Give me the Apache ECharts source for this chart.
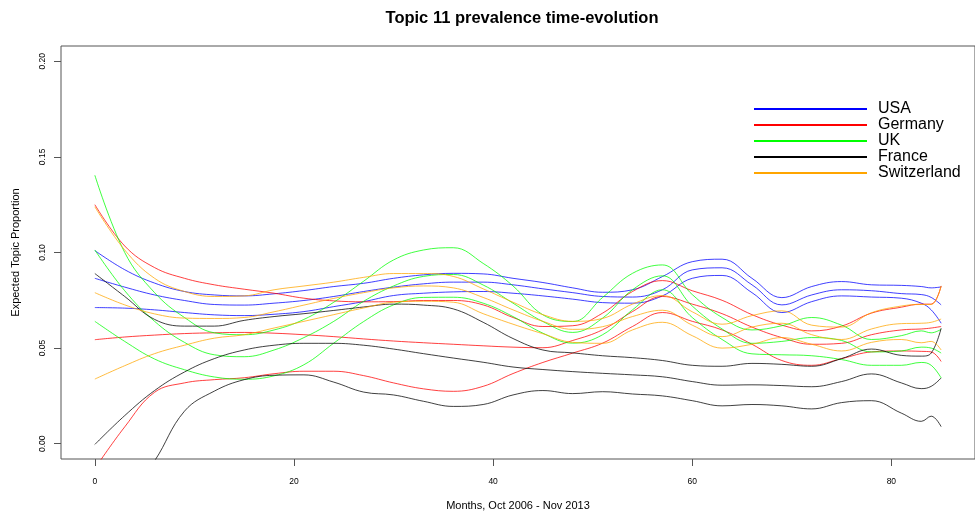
<!DOCTYPE html>
<html>
<head>
<meta charset="utf-8">
<title>Topic 11 prevalence time-evolution</title>
<script src="https://cdn.jsdelivr.net/npm/echarts@6.0.0/dist/echarts.min.js"></script>
<style>
  html, body { margin: 0; padding: 0; background: #fff; }
  #main { width: 975px; height: 517px; }
</style>
</head>
<body>
<div id="main"></div>
<script>
var months = [0, 3, 6, 9, 12, 15, 18, 21, 24, 27, 30, 33, 36, 39, 42, 45, 48, 51, 54, 57, 60, 63, 66, 69, 72, 75, 78, 81, 83, 84, 85];

// expected topic proportion: upper bound, mean, lower bound per country
var usaHi = [.101, .091, .084, .0796, .0778, .0773, .0784, .0801, .0822, .0839, .0865, .0883, .0891, .0888, .0865, .0843, .0815, .0792, .0805, .0874, .0952, .0965, .0865, .0764, .0822, .0848, .0831, .0828, .0822, .0815, .082];
var usaMid = [.0865, .0819, .0778, .0749, .0728, .0725, .0735, .0749, .077, .0796, .0819, .0836, .0845, .0845, .0831, .081, .079, .077, .0767, .0805, .0909, .092, .0831, .0726, .0778, .0805, .080, .0785, .078, .0765, .0726];
var usaLo = [.0712, .0709, .070, .0686, .0674, .067, .0677, .0691, .0717, .0743, .0775, .0787, .0794, .0796, .0787, .0773, .0756, .0738, .0735, .0773, .0865, .088, .079, .0686, .0743, .0773, .0767, .0761, .0735, .070, .063];

var deHi = [.125, .1034, .0921, .0865, .0831, .0808, .0787, .0761, .0747, .0742, .0743, .0749, .0749, .0726, .066, .0613, .0617, .0683, .0796, .0853, .080, .075, .0675, .062, .059, .0615, .0683, .0714, .073, .073, .0825];
var deMid = [.0544, .0558, .0568, .0576, .058, .0582, .0578, .057, .056, .0548, .0537, .0528, .052, .0512, .0505, .0502, .054, .0596, .0691, .077, .073, .068, .061, .0555, .052, .0525, .057, .0595, .060, .0605, .0613];
var deLo = [-.013, .0088, .0269, .0318, .0335, .0345, .0366, .0379, .0379, .0356, .0318, .0287, .0274, .030, .0367, .0425, .0474, .0526, .0613, .0686, .064, .0595, .052, .0435, .041, .0445, .048, .0485, .0483, .048, .043];

var ukHi = [.1404, .100, .079, .066, .058, .057, .0595, .065, .074, .085, .0961, .1013, .1025, .0943, .0825, .0674, .0639, .0765, .0891, .0935, .078, .066, .0595, .0617, .066, .062, .0545, .0565, .059, .058, .0598];
var ukMid = [.1013, .080, .064, .053, .0465, .0455, .049, .0555, .064, .0745, .0825, .0875, .0885, .083, .0735, .0639, .0582, .0657, .0805, .0878, .072, .060, .0525, .0535, .0555, .054, .048, .0485, .0505, .050, .0474];
var ukLo = [.064, .0535, .0443, .0387, .0349, .0337, .0355, .0413, .0526, .0639, .0726, .0765, .0766, .0735, .0665, .0578, .0526, .057, .070, .0805, .066, .0545, .047, .0465, .046, .044, .041, .041, .0425, .041, .0344];

var frHi = [.089, .077, .065, .0615, .0615, .0645, .0665, .068, .0697, .0715, .073, .0725, .0705, .0635, .055, .049, .0475, .046, .045, .0435, .041, .0405, .042, .0415, .0405, .0445, .0495, .0462, .0458, .0474, .0604];
var frMid = [-.0004, .0147, .0278, .0375, .0445, .049, .0515, .0525, .0525, .0515, .0495, .0471, .0448, .0426, .0401, .0388, .0377, .0368, .036, .035, .0325, .0306, .0308, .0304, .0298, .0325, .0365, .0318, .0288, .030, .0344];
var frLo = [-.06, -.03, -.009, .017, .0275, .0335, .0358, .036, .0322, .027, .0255, .0222, .0195, .0205, .0255, .0278, .0262, .0272, .026, .025, .0225, .0198, .0205, .0198, .0182, .0215, .0225, .016, .0117, .0144, .0089];

var chHi = [.1239, .1013, .0865, .0796, .077, .0773, .0805, .0825, .0845, .087, .089, .089, .0875, .081, .074, .0675, .064, .0655, .073, .0775, .069, .0625, .067, .0695, .062, .061, .0685, .072, .0728, .0728, .0825];
var chMid = [.079, .0726, .0679, .0657, .0655, .066, .069, .0725, .076, .079, .0815, .0825, .0815, .0765, .070, .064, .0598, .0612, .0665, .0698, .062, .056, .061, .063, .057, .0545, .060, .0628, .063, .0635, .0652];
var chLo = [.0338, .0408, .0471, .0515, .0552, .057, .0605, .064, .0675, .071, .074, .0745, .074, .068, .0625, .0575, .053, .0525, .0595, .0635, .0565, .050, .052, .0555, .052, .0485, .053, .0545, .0528, .0535, .049];

var countries = ['USA', 'Germany', 'UK', 'France', 'Switzerland'];
var colors = ['#0000ff', '#ff0000', '#00ff00', '#000000', '#ffa500'];
var bands = [
	[usaHi, usaMid, usaLo],
	[deHi, deMid, deLo],
	[ukHi, ukMid, ukLo],
	[frHi, frMid, frLo],
	[chHi, chMid, chLo]
];

var xTicks = [0, 20, 40, 60, 80];
var yTicks = [0, 0.05, 0.1, 0.15, 0.2];

var font = "'Liberation Sans', Arial, Helvetica, sans-serif";

var series = [];
for (var c = 0; c < countries.length; c++) {
	for (var k = 0; k < 3; k++) {
		var vals = bands[c][k];
		var pts = [];
		for (var i = 0; i < months.length; i++) {
			pts.push([months[i], vals[i]]);
		}
		series.push({
			name: countries[c],
			type: 'line',
			data: pts,
			smooth: 0.4,
			showSymbol: false,
			clip: true,
			silent: true,
			itemStyle: { color: colors[c] },
			lineStyle: { color: colors[c], width: 1, opacity: 0.75 }
		});
	}
}

var legendData = [];
for (var j = 0; j < countries.length; j++) {
	legendData.push({ name: countries[j], itemStyle: { color: colors[j] } });
}

var myChart = echarts.init(document.getElementById('main'), null, { renderer: 'canvas' });

var option = {
	animation: false,
	backgroundColor: '#ffffff',
	title: {
		text: 'Topic 11 prevalence time-evolution',
		left: 522,
		textAlign: 'center',
		top: 10,
		padding: 0,
		textStyle: { fontFamily: font, fontSize: 16.5, fontWeight: 'bold', color: '#000' }
	},
	legend: {
		data: legendData,
		orient: 'vertical',
		left: 754,
		top: 101,
		padding: 0,
		itemGap: 0,
		itemWidth: 113,
		itemHeight: 2,
		icon: 'rect',
		selectedMode: false,
		textStyle: { fontFamily: font, fontSize: 16, lineHeight: 16, color: '#000', padding: [0, 0, 0, 6] }
	},
	grid: {
		left: 61,
		top: 46,
		width: 925,
		height: 413,
		show: true,
		borderColor: '#555',
		borderWidth: 1,
		containLabel: false
	},
	xAxis: {
		type: 'value',
		min: -3.4,
		max: 88.4,
		name: 'Months, Oct 2006 - Nov 2013',
		nameLocation: 'middle',
		nameGap: 41,
		nameTextStyle: { fontFamily: font, fontSize: 11, color: '#000' },
		axisLine: { show: false, onZero: false },
		splitLine: { show: false },
		axisTick: { show: true, length: 7, customValues: xTicks, lineStyle: { color: '#555' } },
		axisLabel: { customValues: xTicks, margin: 18, fontFamily: font, fontSize: 8.5, color: '#000' }
	},
	yAxis: {
		type: 'value',
		min: -0.008,
		max: 0.208,
		name: 'Expected Topic Proportion',
		nameLocation: 'middle',
		nameGap: 40,
		nameTextStyle: { fontFamily: font, fontSize: 11, color: '#000' },
		axisLine: { show: false, onZero: false },
		splitLine: { show: false },
		axisTick: { show: true, length: 7, customValues: yTicks, lineStyle: { color: '#555' } },
		axisLabel: {
			customValues: yTicks,
			rotate: 90,
			align: 'center',
			verticalAlign: 'bottom',
			margin: 14,
			fontFamily: font,
			fontSize: 8.5,
			color: '#000',
			formatter: function (v) { return v.toFixed(2); }
		}
	},
	series: series
};

myChart.setOption(option);
</script>
</body>
</html>
